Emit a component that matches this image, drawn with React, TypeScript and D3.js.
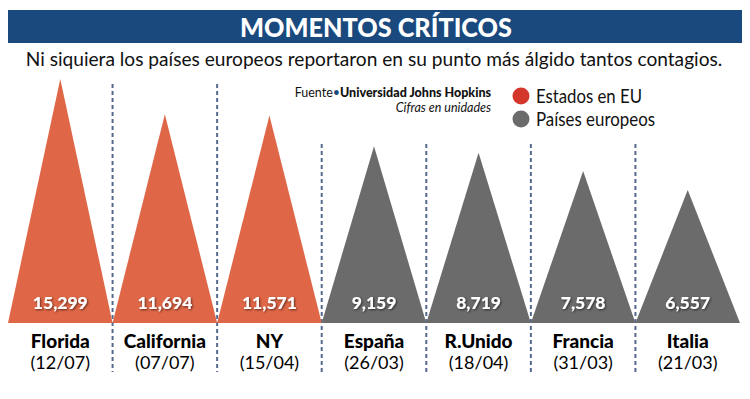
import { useEffect, useRef } from 'react';
import * as d3 from 'd3';

const categories = ['Florida', 'California', 'NY', 'España', 'R.Unido', 'Francia', 'Italia'];
const dates = ['(12/07)', '(07/07)', '(15/04)', '(26/03)', '(18/04)', '(31/03)', '(21/03)'];
const values = [15299, 11694, 11571, 9159, 8719, 7578, 6557];
const groups = ['eu', 'eu', 'eu', 'europa', 'europa', 'europa', 'europa'];
const legendLabels = ['Estados en EU', 'Países europeos'];

const FONT = 'Lato, "Open Sans", sans-serif';

export default function App() {
    const ref = useRef<SVGSVGElement>(null);

    useEffect(() => {
        if (!ref.current) return;
        const svg = d3.select(ref.current);
        svg.selectAll('*').remove();

        const width = 750;
        const height = 399;
        const baseY = 323;

        svg.attr('width', width).attr('height', height);

        const defs = svg.append('defs');
        defs.append('filter')
            .attr('id', 'shadow')
            .attr('x', '-10%').attr('y', '-30%')
            .attr('width', '120%').attr('height', '160%')
            .append('feDropShadow')
            .attr('dx', 1).attr('dy', 1)
            .attr('stdDeviation', 0.8)
            .attr('flood-color', '#000')
            .attr('flood-opacity', 0.6);

        const data = categories.map((c, i) => ({
            cat: c, date: dates[i], value: values[i], group: groups[i],
        }));

        const color = d3.scaleOrdinal<string, string>()
            .domain(['eu', 'europa'])
            .range(['#df6747', '#6b6b6b']);

        const x = d3.scaleBand()
            .domain(categories)
            .range([8, 740])
            .padding(0);

        // apex height: log scale fits the drawn peaks best
        const y = d3.scaleLog()
            .domain([d3.min(values)!, d3.max(values)!])
            .range([190, 79]);

        // squeeze a text horizontally (condensed look) to a target width
        const condense = (sel: d3.Selection<SVGTextElement, unknown, null, undefined>, cx: number, cy: number, target: number) => {
            const len = sel.node()!.getComputedTextLength() || target;
            const k = Math.min(1, target / len);
            sel.attr('x', 0).attr('y', 0)
                .attr('transform', `translate(${cx},${cy}) scale(${k},1)`);
        };

        // Title bar
        svg.append('rect')
            .attr('x', 8).attr('y', 10)
            .attr('width', 737).attr('height', 33)
            .attr('fill', '#1a497d');

        const title = svg.append('text')
            .attr('text-anchor', 'middle')
            .attr('fill', '#fff')
            .attr('font-family', FONT)
            .attr('font-weight', 900)
            .attr('font-size', 27)
            .text('MOMENTOS CRÍTICOS');
        condense(title as any, 376, 37, 272);

        const sub = svg.append('text')
            .attr('text-anchor', 'middle')
            .attr('fill', '#111')
            .attr('font-family', FONT)
            .attr('font-size', 20)
            .text('Ni siquiera los países europeos reportaron en su punto más álgido tantos contagios.');
        condense(sub as any, 374, 65.5, 697);

        // Dashed separators
        const seps = categories.slice(1);
        svg.selectAll('.sep')
            .data(seps)
            .enter()
            .append('line')
            .attr('x1', d => x(d)!)
            .attr('x2', d => x(d)!)
            .attr('y1', (_, i) => (i < 2 ? 84 : 144))
            .attr('y2', 372)
            .attr('stroke', '#55698f')
            .attr('stroke-width', 2)
            .attr('stroke-dasharray', '4,3');

        // Triangles
        svg.selectAll('.tri')
            .data(data)
            .enter()
            .append('path')
            .attr('d', d => {
                const x0 = x(d.cat)!;
                const x1 = x0 + x.bandwidth();
                const xm = x0 + x.bandwidth() / 2;
                return `M${x0},${baseY}L${xm},${y(d.value)}L${x1},${baseY}Z`;
            })
            .attr('fill', d => color(d.group));

        // Values
        svg.selectAll('.val')
            .data(data)
            .enter()
            .append('text')
            .attr('x', d => x(d.cat)! + x.bandwidth() / 2)
            .attr('y', 309)
            .attr('text-anchor', 'middle')
            .attr('fill', '#fff')
            .attr('font-family', FONT)
            .attr('font-weight', 900)
            .attr('font-size', 17.5)
            .attr('filter', 'url(#shadow)')
            .text(d => d3.format(',')(d.value));

        // Category labels
        svg.selectAll('.cat')
            .data(data)
            .enter()
            .append('text')
            .attr('x', d => x(d.cat)! + x.bandwidth() / 2)
            .attr('y', 348)
            .attr('text-anchor', 'middle')
            .attr('fill', '#000')
            .attr('font-family', FONT)
            .attr('font-weight', 900)
            .attr('font-size', 19)
            .text(d => d.cat);

        svg.selectAll('.date')
            .data(data)
            .enter()
            .append('text')
            .attr('x', d => x(d.cat)! + x.bandwidth() / 2)
            .attr('y', 369)
            .attr('text-anchor', 'middle')
            .attr('fill', '#000')
            .attr('font-family', FONT)
            .attr('font-weight', 400)
            .attr('font-size', 18)
            .text(d => d.date);

        // Source
        const src = svg.append('text')
            .attr('x', 491).attr('y', 97)
            .attr('text-anchor', 'end')
            .attr('fill', '#111')
            .attr('font-family', FONT)
            .attr('font-size', 12.5);
        src.append('tspan').text('Fuente');
        src.append('tspan').attr('fill', '#1a497d').text('•');
        src.append('tspan').attr('font-weight', 900).text('Universidad Johns Hopkins');

        svg.append('text')
            .attr('x', 491).attr('y', 112)
            .attr('text-anchor', 'end')
            .attr('fill', '#111')
            .attr('font-family', FONT)
            .attr('font-style', 'italic')
            .attr('font-size', 12.5)
            .text('Cifras en unidades');

        // Legend
        const legend = svg.selectAll('.leg')
            .data(legendLabels)
            .enter()
            .append('g')
            .attr('transform', (_, i) => `translate(521,${96 + i * 23})`);

        legend.append('circle')
            .attr('r', 8.5)
            .attr('fill', (_, i) => (i === 0 ? '#d4362b' : '#6b6b6b'));

        legend.append('text')
            .attr('x', 15)
            .attr('y', 7)
            .attr('fill', '#111')
            .attr('font-family', FONT)
            .attr('font-size', 20)
            .attr('textLength', (_, i) => (i === 0 ? 106 : 119))
            .attr('lengthAdjust', 'spacingAndGlyphs')
            .text(d => d);
    }, []);

    return (
        <div style={{ margin: -8 }}>
            <svg ref={ref} style={{ display: 'block' }} />
        </div>
    );
}
